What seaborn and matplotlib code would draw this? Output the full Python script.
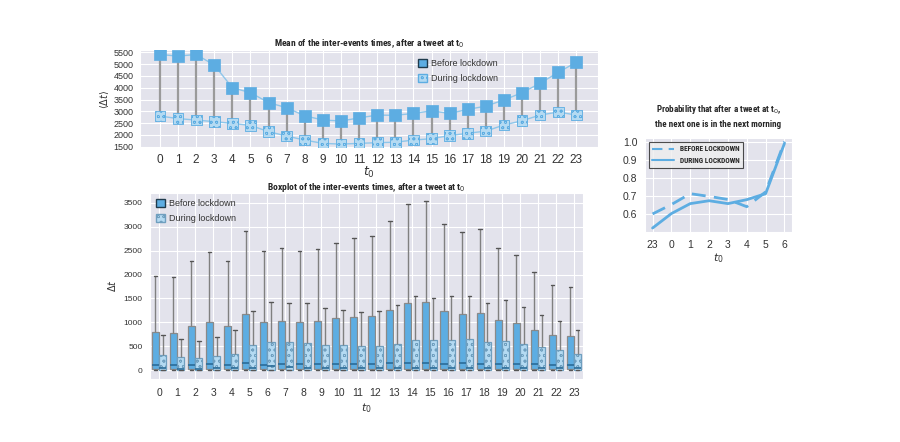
import numpy as np
import pandas as pd
import matplotlib
matplotlib.use('Agg')
import matplotlib.pyplot as plt
import seaborn as sns
from matplotlib import font_manager
from matplotlib.patches import Patch
from matplotlib.lines import Line2D

# Datos
hours = list(range(24))

mean_before = [5410, 5340, 5410, 4960, 4000, 3790, 3370, 3150, 2810, 2630, 2590, 2720,
               2840, 2830, 2910, 3020, 2910, 3080, 3220, 3480, 3790, 4190, 4650, 5080]
mean_during = [2800, 2690, 2630, 2560, 2490, 2400, 2140, 1950, 1780, 1640, 1610, 1640,
               1670, 1690, 1780, 1840, 1970, 2070, 2160, 2420, 2600, 2840, 2970, 2840]

# boxplot: cuartiles y bigotes (bigote inferior = 0)
before_q1 = [20] * 24
before_med = [110, 110, 110, 125, 120, 145, 120, 140, 130, 135, 140, 140,
              140, 150, 160, 160, 140, 145, 140, 140, 130, 125, 110, 110]
before_q3 = [805, 790, 930, 1000, 930, 1180, 1005, 1040, 1005, 1025, 1085, 1115,
             1140, 1270, 1415, 1430, 1235, 1175, 1195, 1050, 985, 840, 735, 715]
before_whi = [1970, 1945, 2275, 2465, 2290, 2905, 2485, 2545, 2485, 2525, 2665, 2760,
              2810, 3115, 3475, 3530, 3045, 2880, 2940, 2560, 2400, 2060, 1790, 1730]

during_q1 = [10] * 24
during_med = [40, 35, 35, 40, 60, 60, 90, 80, 60, 60, 60, 60,
              60, 60, 60, 60, 60, 60, 60, 60, 55, 50, 45, 40]
during_q3 = [320, 270, 265, 290, 340, 520, 590, 585, 570, 525, 520, 505,
             505, 560, 630, 625, 630, 645, 585, 605, 550, 480, 425, 340]
during_whi = [745, 645, 620, 695, 835, 1240, 1430, 1415, 1400, 1300, 1250, 1210,
              1230, 1355, 1550, 1515, 1550, 1560, 1415, 1465, 1325, 1150, 1020, 840]

prob_hours = ['23', '0', '1', '2', '3', '4', '5', '6']
prob_before = [0.600, 0.652, 0.712, 0.697, 0.680, 0.640, 0.722, 1.0]
prob_during = [0.522, 0.602, 0.657, 0.673, 0.657, 0.679, 0.712, 0.99]

c_before = '#5dade2'
c_during = '#b4daf2'
c_line = '#8ec6ea'


def pick_font(names):
    for n in names:
        try:
            font_manager.findfont(font_manager.FontProperties(family=n),
                                  fallback_to_default=False)
            return n
        except Exception:
            pass
    return 'DejaVu Sans'


narrow = pick_font(['Liberation Sans Narrow', 'Roboto Condensed', 'Open Sans Condensed',
                    'Noto Sans Condensed', 'Roboto'])
title_font = [narrow, 'DejaVu Sans']

sns.set_style('darkgrid', {'axes.facecolor': '#e3e3ec'})
plt.rcParams['font.family'] = ['Liberation Sans', 'DejaVu Sans']
plt.rcParams['hatch.linewidth'] = 0.5

fig = plt.figure(figsize=(9, 4.42), dpi=100)

# 1. Media de los tiempos entre eventos
ax1 = fig.add_axes([0.1556, 0.6652, 0.5089, 0.2217])
ax1.vlines(hours, mean_during, mean_before, colors='#9a9a9a', lw=1.6, zorder=2)
sns.lineplot(x=hours, y=mean_before, color=c_line, lw=1, ax=ax1, zorder=3)
sns.lineplot(x=hours, y=mean_during, color=c_line, lw=1, ax=ax1, zorder=3)
sns.scatterplot(x=hours, y=mean_before, marker='s', s=85, color=c_before,
                edgecolor=c_before, linewidth=0.5, ax=ax1, zorder=4)
sns.scatterplot(x=hours, y=mean_during, marker='s', s=60, color=c_during,
                edgecolor=c_before, linewidth=0.6, hatch='ooo', ax=ax1, zorder=4)
ax1.set_xlim(-1.1, 24.2)
ax1.set_ylim(1445, 5600)
ax1.set_xticks(hours)
ax1.set_yticks(range(1500, 5501, 500))
ax1.tick_params(axis='x', labelsize=8.5, colors='#333333', pad=1)
ax1.tick_params(axis='y', labelsize=6.5, colors='#333333', pad=1)
ax1.set_xlabel('$t_0$', fontsize=9, color='#333333', labelpad=-1)
ax1.set_ylabel(r'$\langle\Delta t\rangle$', fontsize=7, color='#333333', labelpad=2)
ax1.set_title('Mean of the inter-events times, after a tweet at t$_0$',
              fontsize=6.8, fontweight='bold', family=title_font, pad=3)
h1 = [Patch(facecolor=c_before, edgecolor='#1f3b4d', label='Before lockdown'),
      Patch(facecolor=c_during, edgecolor=c_before, hatch='ooo', label='During lockdown')]
ax1.legend(handles=h1, loc='upper left', bbox_to_anchor=(0.59, 0.99), frameon=False,
           fontsize=6.5, handlelength=1.0, handleheight=1.0, handletextpad=0.4,
           labelspacing=0.6, labelcolor='#333333')

# 2. Boxplot
rows = []
for i, h in enumerate(hours):
    for v in [0, before_q1[i], before_med[i], before_q3[i], before_whi[i]]:
        rows.append({'hour': h, 'dt': v, 'period': 'Before lockdown'})
    for v in [0, during_q1[i], during_med[i], during_q3[i], during_whi[i]]:
        rows.append({'hour': h, 'dt': v, 'period': 'During lockdown'})
df = pd.DataFrame(rows)

ax2 = fig.add_axes([0.1667, 0.1425, 0.4811, 0.4208])
sns.boxplot(data=df, x='hour', y='dt', hue='period', whis=(0, 100), showfliers=False,
            width=0.82, gap=0.05, palette=[c_before, c_during], saturation=1,
            linecolor='#8a8a8a', linewidth=0.9, legend=False, ax=ax2,
            medianprops=dict(color='#2b6c98', lw=1.2),
            capprops=dict(color='#555555', lw=1.0),
            whiskerprops=dict(color='#808080', lw=1.0))
for p in ax2.patches:
    fc = p.get_facecolor()
    if np.allclose(fc[:3], matplotlib.colors.to_rgb(c_during), atol=0.03):
        p.set_hatch('ooo')
        p.set_edgecolor('#6f9fbf')
ax2.set_xlim(-0.5, 23.5)
ax2.set_ylim(-180, 3700)
ax2.set_yticks(range(0, 3501, 500))
ax2.grid(True, axis='x', color='white')
ax2.tick_params(axis='x', labelsize=7.5, colors='#333333', pad=3)
ax2.tick_params(axis='y', labelsize=6, colors='#333333', pad=2)
ax2.set_xlabel('$t_0$', fontsize=8, color='#333333', labelpad=2)
ax2.set_ylabel(r'$\Delta t$', fontsize=7, color='#333333', labelpad=4)
ax2.set_title('Boxplot of the inter-events times, after a tweet at t$_0$',
              fontsize=6.8, fontweight='bold', family=title_font, pad=2)
h2 = [Patch(facecolor=c_before, edgecolor='#1f3b4d', label='Before lockdown'),
      Patch(facecolor=c_during, edgecolor='#6f9fbf', hatch='ooo', label='During lockdown')]
ax2.legend(handles=h2, loc='upper left', frameon=False, fontsize=6.5,
           handlelength=1.0, handleheight=1.0, handletextpad=0.4, labelspacing=0.6,
           labelcolor='#333333', borderaxespad=0.3)

# 3. Probabilidad de la mañana siguiente
ax3 = fig.add_axes([0.7167, 0.4751, 0.1633, 0.2127])
sns.lineplot(x=prob_hours, y=prob_before, sort=False, color=c_before, lw=2,
             linestyle=(0, (5, 3)), ax=ax3)
sns.lineplot(x=prob_hours, y=prob_during, sort=False, color=c_before, lw=2, ax=ax3)
ax3.set_xlim(-0.4, 7.4)
ax3.set_ylim(0.5, 1.02)
ax3.set_yticks([0.6, 0.7, 0.8, 0.9, 1.0])
ax3.tick_params(axis='both', labelsize=7.5, colors='#333333', pad=2)
ax3.set_xlabel('$t_0$', fontsize=8, color='#333333', labelpad=1)
ax3.set_ylabel('')
ax3.set_title('Probability that after a tweet at t$_0$,\nthe next one is in the next morning',
              fontsize=6.5, fontweight='bold', family=title_font, pad=8, linespacing=1.6)
h3 = [Line2D([0], [0], color=c_before, lw=1.5, linestyle=(0, (5, 3)), label='BEFORE LOCKDOWN'),
      Line2D([0], [0], color=c_before, lw=1.5, label='DURING LOCKDOWN')]
leg = ax3.legend(handles=h3, loc='upper left', handlelength=3.0,
                 prop={'family': title_font, 'weight': 'bold', 'size': 5.3},
                 frameon=True, fancybox=False, edgecolor='#222222', borderaxespad=0.6)
leg.get_frame().set_linewidth(0.8)
leg.get_frame().set_facecolor('#eeeeee')

fig.savefig('out.png', dpi=100)
